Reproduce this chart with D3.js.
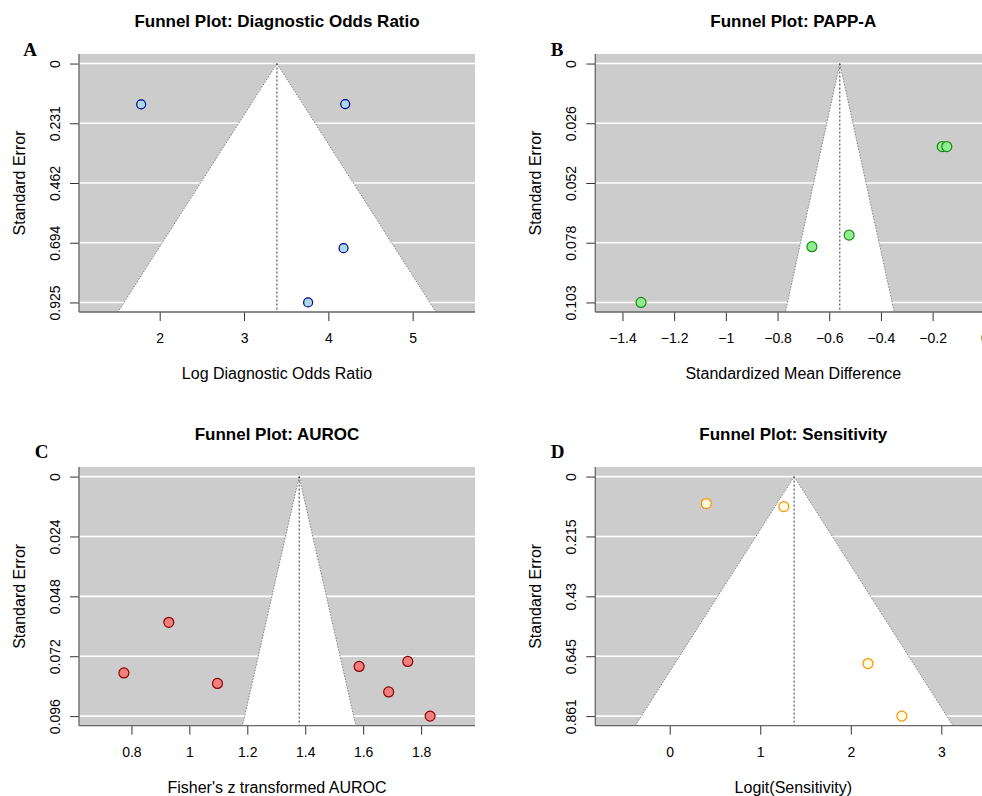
<!DOCTYPE html>
<html>
<head>
<meta charset="utf-8">
<script src="https://cdn.jsdelivr.net/npm/d3@7"></script>
<style>
  html, body { margin: 0; padding: 0; background: #fff; overflow: hidden; }
  svg { display: block; }
  text { font-family: "Liberation Sans", Arial, sans-serif; fill: #000; }
</style>
</head>
<body>
<svg id="chart" width="982" height="796"></svg>
<script>
// ---------------- DATA ----------------
const titles = ["Funnel Plot: Diagnostic Odds Ratio", "Funnel Plot: PAPP-A", "Funnel Plot: AUROC", "Funnel Plot: Sensitivity"];
const panelLetters = ["A", "B", "C", "D"];
const xTitles = ["Log Diagnostic Odds Ratio", "Standardized Mean Difference", "Fisher's z transformed AUROC", "Logit(Sensitivity)"];

// pooled estimates
const estimates = [3.39, -0.559, 1.379, 1.374];
// maximum standard error (defines the y axis)
const seMax = [0.925, 0.1033, 0.096, 0.861];

// study effects (x) and standard errors (y)
const dorX  = [1.78, 4.20, 4.18, 3.76];
const dorSE = [0.158, 0.157, 0.715, 0.925];
const pappX  = [-1.328, -0.667, -0.523, -0.163, -0.145];
const pappSE = [0.1033, 0.0792, 0.0742, 0.0359, 0.0359];
const aurocX  = [0.774, 0.929, 1.097, 1.586, 1.688, 1.754, 1.831];
const aurocSE = [0.0787, 0.0584, 0.0829, 0.0761, 0.0863, 0.0741, 0.096];
const sensX  = [0.404, 1.26, 2.19, 2.564];
const sensSE = [0.097, 0.108, 0.672, 0.861];

// axes
const xDomains = [[1.043, 5.739], [-1.505, 0.027], [0.619, 1.986], [-0.822, 3.552]];
const xTicks = [[2, 3, 4, 5], [-1.4, -1.2, -1, -0.8, -0.6, -0.4, -0.2, 0], [0.8, 1, 1.2, 1.4, 1.6, 1.8], [0, 1, 2, 3]];
const yTickLabels = [
  ["0", "0.231", "0.462", "0.694", "0.925"],
  ["0", "0.026", "0.052", "0.078", "0.103"],
  ["0", "0.024", "0.048", "0.072", "0.096"],
  ["0", "0.215", "0.43", "0.645", "0.861"]
];

// ---------------- STYLE / LAYOUT ----------------
const pointFill = ["#add8e6", "#90ee90", "#f08080", "#ffffe0"];
const pointStroke = ["#00008b", "#1a8c1a", "#8b0000", "#ff8c00"];
const pointR = [4.5, 5, 5, 5];
const boxes = [
  {x0: 79, x1: 475, y0: 54, y1: 312, letterX: 30, letterY: 56},
  {x0: 595.3, x1: 991.3, y0: 54, y1: 312, letterX: 557, letterY: 56},
  {x0: 79, x1: 475, y0: 467, y1: 725.7, letterX: 41.7, letterY: 458},
  {x0: 595.3, x1: 991.3, y0: 467, y1: 725.7, letterX: 557.7, letterY: 458}
];
const seriesX = [dorX, pappX, aurocX, sensX];
const seriesSE = [dorSE, pappSE, aurocSE, sensSE];

const svg = d3.select("#chart");

function fmt(v) {
  return d3.format("~g")(v);
}

for (let i = 0; i < 4; i++) {
  const b = boxes[i];
  const g = svg.append("g");
  const x = d3.scaleLinear().domain(xDomains[i]).range([b.x0, b.x1]);
  const yMin = -0.04 * seMax[i], yMax = 1.04 * seMax[i];
  const y = d3.scaleLinear().domain([yMin, yMax]).range([b.y0, b.y1]);

  const clipId = "clip" + i;
  g.append("clipPath").attr("id", clipId)
    .append("rect").attr("x", b.x0).attr("y", b.y0).attr("width", b.x1 - b.x0).attr("height", b.y1 - b.y0);

  const inner = g.append("g").attr("clip-path", `url(#${clipId})`);
  // background
  inner.append("rect").attr("x", b.x0).attr("y", b.y0)
    .attr("width", b.x1 - b.x0).attr("height", b.y1 - b.y0).attr("fill", "#cccccc");

  // horizontal reference lines
  const yTickVals = d3.range(5).map(k => k * seMax[i] / 4);
  inner.selectAll(".hl").data(yTickVals).enter().append("line")
    .attr("x1", b.x0).attr("x2", b.x1)
    .attr("y1", d => y(d)).attr("y2", d => y(d))
    .attr("stroke", "#ffffff").attr("stroke-width", 1.6);

  // funnel
  const est = estimates[i];
  const funnelPts = [[est, 0], [est - 1.96 * yMax, yMax], [est + 1.96 * yMax, yMax]];
  inner.append("polygon")
    .attr("points", funnelPts.map(p => [x(p[0]), y(p[1])].join(",")).join(" "))
    .attr("fill", "#ffffff");
  inner.append("line")
    .attr("x1", x(est)).attr("y1", y(0)).attr("x2", x(est - 1.96 * yMax)).attr("y2", y(yMax))
    .attr("stroke", "#808080").attr("stroke-width", 1).attr("stroke-dasharray", "1.5,1.5");
  inner.append("line")
    .attr("x1", x(est)).attr("y1", y(0)).attr("x2", x(est + 1.96 * yMax)).attr("y2", y(yMax))
    .attr("stroke", "#808080").attr("stroke-width", 1).attr("stroke-dasharray", "1.5,1.5");
  inner.append("line")
    .attr("x1", x(est)).attr("y1", y(0)).attr("x2", x(est)).attr("y2", y(yMax))
    .attr("stroke", "#333333").attr("stroke-width", 1).attr("stroke-dasharray", "2,2");

  // points
  const pts = seriesX[i].map((v, k) => ({x: v, se: seriesSE[i][k]}));
  inner.selectAll(".pt").data(pts).enter().append("circle")
    .attr("cx", d => x(d.x)).attr("cy", d => y(d.se)).attr("r", pointR[i])
    .attr("fill", pointFill[i]).attr("stroke", pointStroke[i]).attr("stroke-width", 1.2);

  // axes
  const xAxis = d3.axisBottom(x).tickValues(xTicks[i]).tickSize(9).tickPadding(12).tickFormat(fmt);
  const xg = g.append("g").attr("transform", `translate(0,${b.y1})`).call(xAxis);
  xg.select(".domain").remove();
  xg.selectAll(".tick line").attr("stroke", "#333");
  xg.selectAll(".tick text").attr("font-size", 14).attr("font-family", "Liberation Sans, Arial, sans-serif").attr("fill", "#000");
  g.append("line").attr("x1", b.x0).attr("x2", b.x1).attr("y1", b.y1).attr("y2", b.y1)
    .attr("stroke", "#666").attr("stroke-width", 1.3);

  const yAxis = d3.axisLeft(y).tickValues(yTickVals).tickSize(9).tickPadding(0)
    .tickFormat((d, k) => yTickLabels[i][k]);
  const yg = g.append("g").attr("transform", `translate(${b.x0},0)`).call(yAxis);
  yg.select(".domain").remove();
  yg.selectAll(".tick line").attr("stroke", "#333");
  yg.selectAll(".tick text")
    .attr("font-size", 14).attr("font-family", "Liberation Sans, Arial, sans-serif").attr("fill", "#000")
    .attr("x", 0).attr("dy", null).attr("y", 0)
    .attr("text-anchor", "middle")
    .attr("transform", "translate(-19,0) rotate(-90)");
  g.append("line").attr("x1", b.x0).attr("x2", b.x0).attr("y1", b.y0).attr("y2", b.y1)
    .attr("stroke", "#666").attr("stroke-width", 1.3);

  const cx = (b.x0 + b.x1) / 2, cy = (b.y0 + b.y1) / 2;
  // axis titles
  g.append("text").attr("x", cx).attr("y", b.y1 + 67).attr("text-anchor", "middle")
    .attr("font-size", 16).text(xTitles[i]);
  g.append("text").attr("transform", `translate(${b.x0 - 54},${cy}) rotate(-90)`)
    .attr("text-anchor", "middle").attr("font-size", 16).text("Standard Error");
  // main title
  g.append("text").attr("x", cx).attr("y", b.y0 - 27).attr("text-anchor", "middle")
    .attr("font-size", 17).attr("font-weight", "bold").text(titles[i]);
  // panel letter
  g.append("text").attr("x", b.letterX).attr("y", b.letterY).attr("text-anchor", "middle")
    .attr("font-size", 19).attr("font-weight", "bold")
    .attr("font-family", "Liberation Serif, 'Times New Roman', serif")
    .style("font-family", "Liberation Serif, 'Times New Roman', serif")
    .text(panelLetters[i]);
}
</script>
</body>
</html>
